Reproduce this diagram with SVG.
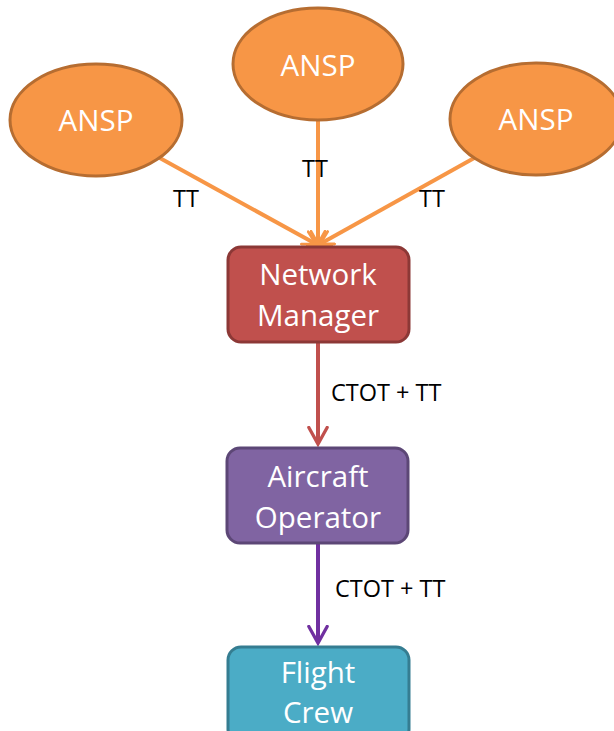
<svg xmlns="http://www.w3.org/2000/svg" width="614" height="731" viewBox="0 0 614 731">
  <defs>
    <marker id="head-orange" viewBox="0 0 12 12" refX="10" refY="6" markerWidth="17" markerHeight="17" markerUnits="userSpaceOnUse" orient="auto">
      <path d="M1,1 L10,6 L1,11" fill="none" stroke="#F79646" stroke-width="2" stroke-linecap="round"/>
    </marker>
    <marker id="head-red" viewBox="0 0 12 12" refX="10" refY="6" markerWidth="22" markerHeight="22" markerUnits="userSpaceOnUse" orient="auto">
      <path d="M1,1 L10,6 L1,11" fill="none" stroke="#C0504D" stroke-width="1.8" stroke-linecap="round"/>
    </marker>
    <marker id="head-purple" viewBox="0 0 12 12" refX="10" refY="6" markerWidth="22" markerHeight="22" markerUnits="userSpaceOnUse" orient="auto">
      <path d="M1,1 L10,6 L1,11" fill="none" stroke="#7030A0" stroke-width="1.8" stroke-linecap="round"/>
    </marker>
  </defs>
  <style>
    .ansp { fill: #F79646; stroke: #B66D31; stroke-width: 3; }
    .box { stroke-width: 3; }
    .node-text { font-family: "Open Sans", "Liberation Sans", sans-serif; font-size: 29.5px; fill: #FFFFFF; text-anchor: middle; }
    .edge-label { font-family: "Open Sans", "Liberation Sans", sans-serif; font-size: 23.5px; fill: #000000; }
    .edge { fill: none; stroke-width: 4; }
  </style>

  <rect width="614" height="731" fill="#FFFFFF"/>

  <g id="connectors">
    <line class="edge" x1="158" y1="157" x2="316" y2="244" stroke="#F79646" marker-end="url(#head-orange)"/>
    <line class="edge" x1="318" y1="120" x2="318" y2="244" stroke="#F79646" marker-end="url(#head-orange)"/>
    <line class="edge" x1="476" y1="157" x2="320" y2="244" stroke="#F79646" marker-end="url(#head-orange)"/>
    <line x1="306" y1="245" x2="333" y2="245" stroke="#F79646" stroke-width="4"/>
    <line class="edge" x1="318" y1="343" x2="318" y2="444" stroke="#C0504D" marker-end="url(#head-red)"/>
    <line class="edge" x1="318" y1="544" x2="318" y2="643" stroke="#7030A0" marker-end="url(#head-purple)"/>
    <text class="edge-label" x="173" y="207">TT</text>
    <text class="edge-label" x="302" y="177">TT</text>
    <text class="edge-label" x="419" y="207">TT</text>
    <text class="edge-label" x="331" y="401">CTOT + TT</text>
    <text class="edge-label" x="335" y="597">CTOT + TT</text>
  </g>

  <g id="ansp-left">
    <ellipse class="ansp" cx="96" cy="120" rx="86" ry="56"/>
    <text class="node-text" x="96" y="131">ANSP</text>
  </g>
  <g id="ansp-top">
    <ellipse class="ansp" cx="318" cy="64" rx="85" ry="56"/>
    <text class="node-text" x="318" y="76">ANSP</text>
  </g>
  <g id="ansp-right">
    <ellipse class="ansp" cx="536" cy="119" rx="86" ry="56"/>
    <text class="node-text" x="536" y="130">ANSP</text>
  </g>

  <g id="network-manager">
    <rect class="box" x="228" y="247" width="181" height="95" rx="13" fill="#C0504D" stroke="#8C3836"/>
    <text class="node-text" x="318" y="285">Network</text>
    <text class="node-text" x="318" y="326">Manager</text>
  </g>

  <g id="aircraft-operator">
    <rect class="box" x="227" y="448" width="181" height="95" rx="13" fill="#8064A2" stroke="#5C4776"/>
    <text class="node-text" x="318" y="487">Aircraft</text>
    <text class="node-text" x="318" y="528">Operator</text>
  </g>

  <g id="flight-crew">
    <rect class="box" x="228" y="647" width="181" height="95" rx="13" fill="#4BACC6" stroke="#357D91"/>
    <text class="node-text" x="318" y="683">Flight</text>
    <text class="node-text" x="318" y="723">Crew</text>
  </g>
</svg>
